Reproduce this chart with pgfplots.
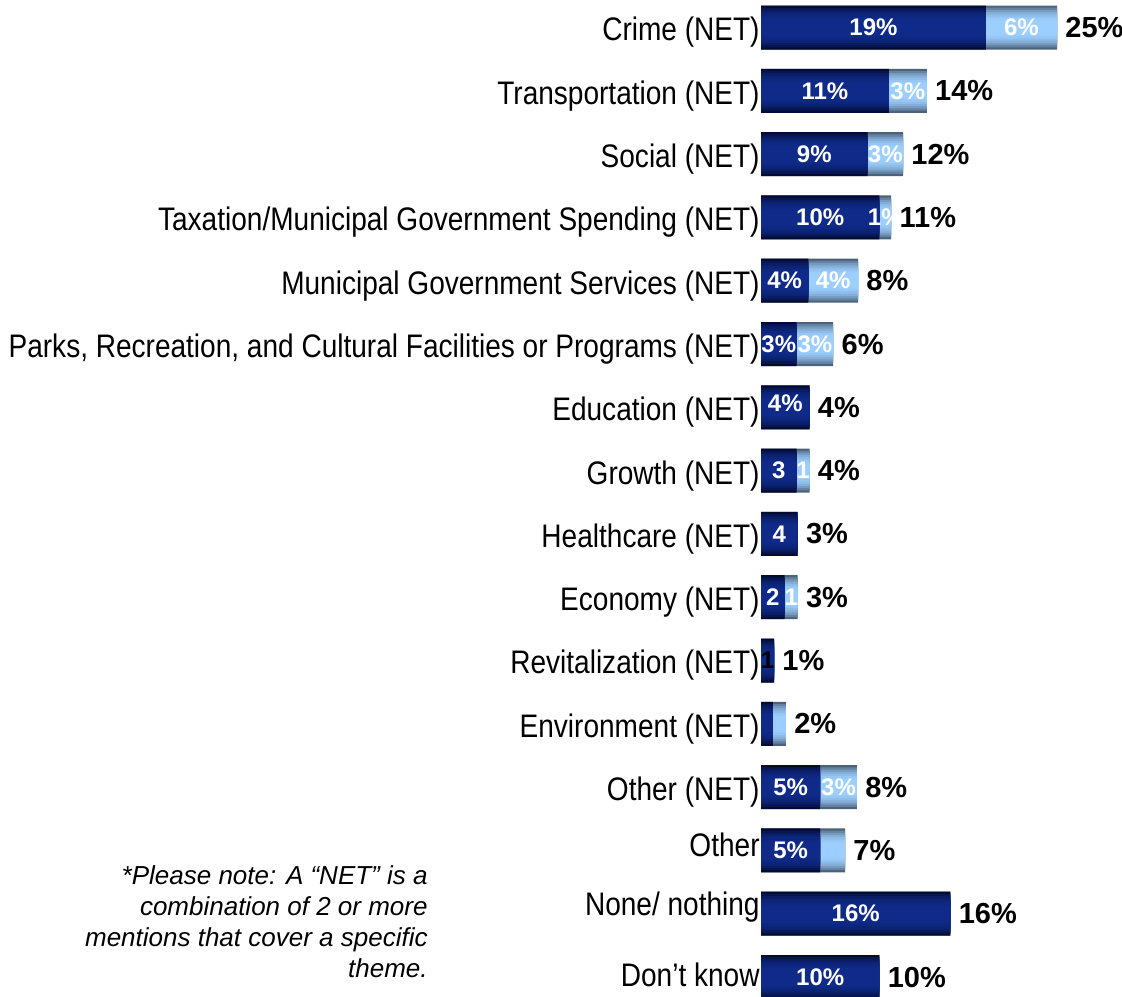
\documentclass[border=0pt]{standalone}
\usepackage{pgfplots}
\pgfplotsset{compat=1.18}
\usepackage{pgfplotstable}
\usepackage{fontspec}
\setmainfont{Liberation Sans}
\newfontfamily\narrowfont[FakeStretch=0.86]{Liberation Sans}
\definecolor{dkedge}{HTML}{030B33}
\definecolor{dkmid}{HTML}{0F2A88}
\definecolor{ltedge}{HTML}{4C627A}
\definecolor{ltmid}{HTML}{9CCFFF}

\pgfplotstableread{
idx dark light total dlab llab tlab
0 19 6 25 19\% 6\% 25\%
1 10.8 3.2 14 11\% 3\% 14\%
2 9 3 12 9\% 3\% 12\%
3 10 1 11 10\% 1\% 11\%
4 4 4.2 8.2 4\% 4\% 8\%
5 3 3.1 6.1 3\% 3\% 6\%
6 4.1 0 4.1 {\raisebox{4pt}{4\%}} {} 4\%
7 3 1.1 4.1 3 1 4\%
8 3.1 0 3.1 4 {} 3\%
9 2 1.1 3.1 2 1 3\%
10 1.1 0 1.1 {\color{black}1} {} 1\%
11 1 1.1 2.1 {} {} 2\%
12 5 3.1 8.1 5\% 3\% 8\%
13 5 2.1 7.1 5\% {} 7\%
14 16 0 16 16\% {} 16\%
15 10 0 10 10\% {} 10\%
}\data

\newcommand\ltlayer[2]{\addplot[xbar, bar shift=0pt, bar width=#1, draw=none, fill=ltmid!#2!ltedge, forget plot] table[x=total, y=idx] {\data};}
\newcommand\dklayer[2]{\addplot[xbar, bar shift=0pt, bar width=#1, draw=none, fill=dkmid!#2!dkedge, forget plot] table[x=dark, y=idx] {\data};}

\begin{document}
\begin{tikzpicture}
\useasboundingbox (0,0) rectangle (561pt,498pt);
\begin{axis}[
  at={(380.5pt,0pt)}, anchor=south west,
  x=5.92pt, y=31.65pt, y dir=reverse,
  xmin=0, xmax=30.49, ymin=-0.4265, ymax=15.30,
  clip=false,
  axis line style={draw=none},
  xtick=\empty,
  ytick={0,...,15},
  major tick length=0pt,
  yticklabels={Crime (NET), Transportation (NET), Social (NET),
    Taxation/Municipal Government Spending (NET),
    Municipal Government Services (NET),
    {Parks, Recreation, and Cultural Facilities or Programs (NET)},
    Education (NET), Growth (NET), Healthcare (NET), Economy (NET),
    Revitalization (NET), Environment (NET), Other (NET),
    \raisebox{11pt}{Other}, \raisebox{15.5pt}{None/ nothing}, \raisebox{7pt}{Don’t know}},
  yticklabel style={font=\narrowfont\fontsize{16.3}{18}\selectfont, anchor=east, inner sep=0pt, xshift=-0.5pt, yshift=-2.5pt},
]
\ltlayer{22pt}{0}
\ltlayer{19.8pt}{30}
\ltlayer{17.6pt}{52}
\ltlayer{15.4pt}{70}
\ltlayer{13.2pt}{83}
\ltlayer{11pt}{92}
\ltlayer{8.8pt}{98}
\ltlayer{6.6pt}{100}
\dklayer{22pt}{0}
\dklayer{19.8pt}{35}
\dklayer{17.6pt}{58}
\dklayer{15.4pt}{75}
\dklayer{13.2pt}{87}
\dklayer{11pt}{95}
\dklayer{8.8pt}{100}
% segment labels
\addplot[draw=none, mark=none, nodes near coords, nodes near coords align=center,
  point meta=explicit symbolic,
  every node near coord/.style={font=\bfseries\fontsize{12}{14}\selectfont, text=white, anchor=center, inner sep=0pt}]
  table[x expr=\thisrow{dark}/2, y=idx, meta=dlab] {\data};
\addplot[draw=none, mark=none, nodes near coords, nodes near coords align=center,
  point meta=explicit symbolic,
  every node near coord/.style={font=\bfseries\fontsize{12}{14}\selectfont, text=white, anchor=center, inner sep=0pt}]
  table[x expr=\thisrow{dark}+\thisrow{light}/2, y=idx, meta=llab] {\data};
% totals
\addplot[draw=none, mark=none, nodes near coords,
  point meta=explicit symbolic,
  every node near coord/.style={font=\bfseries\fontsize{14.5}{16}\selectfont, text=black, anchor=west, inner sep=0pt, xshift=4pt}]
  table[x=total, y=idx, meta=tlab] {\data};
\end{axis}
\node[anchor=north east, align=right, inner sep=0pt,
  font=\itshape\fontsize{13}{15.6}\selectfont] at (214pt,65.5pt)
  {*Please note: A “NET” is a\\combination of 2 or more\\mentions that cover a specific\\theme.};
\end{tikzpicture}
\end{document}
